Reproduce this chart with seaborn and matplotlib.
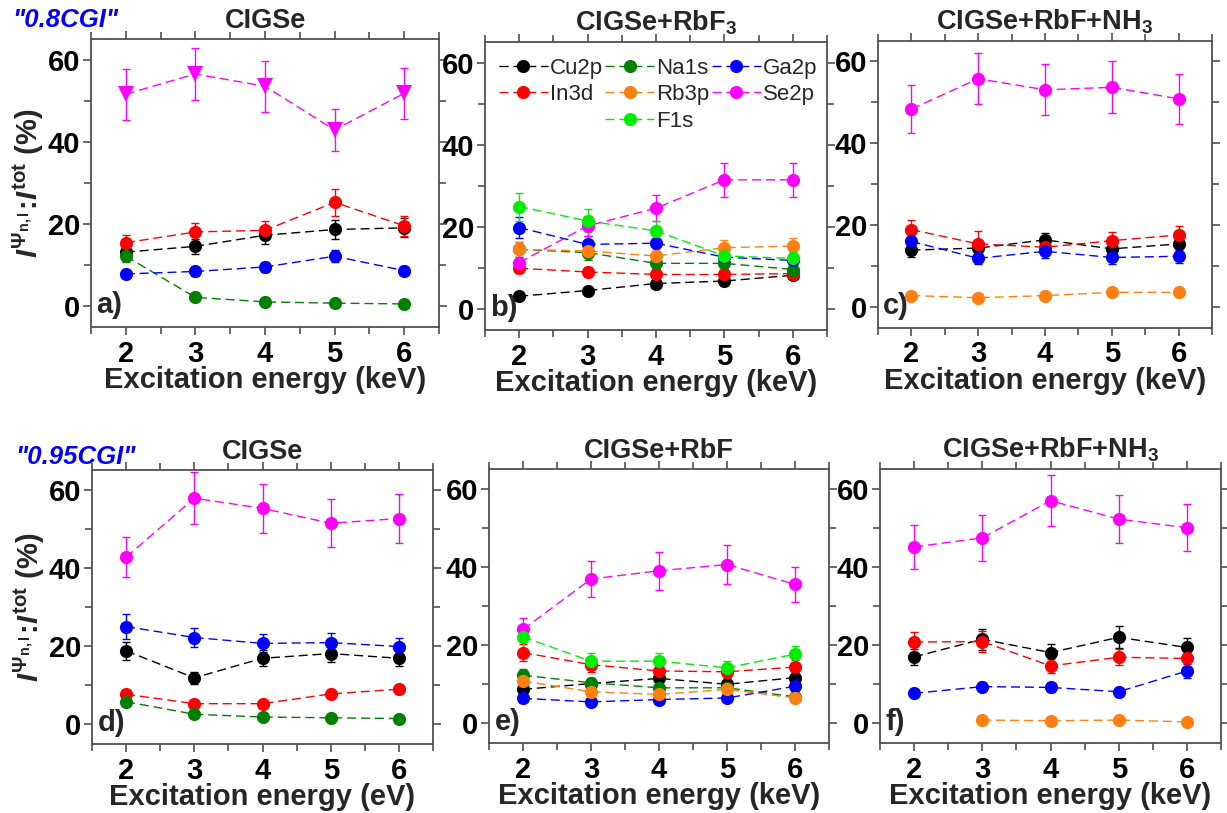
import numpy as np
import matplotlib
matplotlib.use("Agg")
import matplotlib.pyplot as plt
from matplotlib.lines import Line2D
from matplotlib.ticker import MultipleLocator
import seaborn as sns

# ---------------- data ----------------
ENERGY = [2, 3, 4, 5, 6]
nan = np.nan

# panel a: 0.8CGI CIGSe
A_VAL = {
    "Cu2p": [13.2, 14.6, 17.3, 18.7, 19.1],
    "In3d": [15.5, 18.1, 18.5, 25.3, 19.6],
    "Na1s": [12.2, 2.2, 1.1, 0.8, 0.6],
    "Ga2p": [7.9, 8.5, 9.6, 12.2, 8.7],
    "Se2p": [51.6, 56.5, 53.5, 42.9, 51.8],
}
A_ERR = {
    "Cu2p": [1.6, 1.8, 2.1, 2.3, 2.3],
    "In3d": [1.9, 2.2, 2.2, 3.2, 2.4],
    "Na1s": [1.5, 0.3, 0.2, 0.1, 0.1],
    "Ga2p": [1.0, 1.0, 1.2, 1.5, 1.1],
    "Se2p": [6.2, 6.4, 6.2, 5.2, 6.2],
}
# panel b: 0.8CGI CIGSe+RbF3
B_VAL = {
    "Cu2p": [3.2, 4.6, 6.3, 6.9, 8.3],
    "In3d": [10.0, 9.1, 8.5, 8.5, 8.7],
    "Na1s": [14.6, 13.8, 11.2, 11.2, 9.7],
    "Ga2p": [19.9, 15.8, 16.1, 12.7, 11.9],
    "Rb3p": [14.6, 14.2, 13.0, 15.0, 15.4],
    "Se2p": [11.4, 20.3, 24.6, 31.5, 31.5],
    "F1s": [25.0, 21.5, 19.1, 13.0, 12.4],
}
B_ERR = {
    "Cu2p": [0.4, 0.6, 0.8, 0.9, 1.0],
    "In3d": [1.2, 1.1, 1.0, 1.0, 1.1],
    "Na1s": [1.8, 1.7, 1.4, 1.4, 1.2],
    "Ga2p": [2.5, 2.0, 2.0, 1.6, 1.5],
    "Rb3p": [1.8, 1.8, 1.6, 1.9, 1.9],
    "Se2p": [1.4, 2.5, 3.1, 4.2, 4.2],
    "F1s": [3.4, 2.8, 2.4, 1.6, 1.6],
}
# panel c: 0.8CGI CIGSe+RbF+NH3
C_VAL = {
    "Cu2p": [14.0, 14.5, 16.5, 14.3, 15.5],
    "In3d": [19.0, 15.5, 14.7, 16.3, 17.7],
    "Ga2p": [16.1, 12.0, 13.7, 12.2, 12.5],
    "Rb3p": [2.9, 2.4, 2.9, 3.7, 3.7],
    "Se2p": [48.4, 55.8, 53.1, 53.7, 50.9],
}
C_ERR = {
    "Cu2p": [1.7, 1.8, 1.6, 1.8, 1.9],
    "In3d": [2.4, 3.2, 1.8, 2.0, 2.2],
    "Ga2p": [2.0, 1.5, 1.7, 1.5, 1.6],
    "Rb3p": [0.4, 0.3, 0.4, 0.5, 0.5],
    "Se2p": [5.8, 6.2, 6.2, 6.3, 6.1],
}
# panel d: 0.95CGI CIGSe
D_VAL = {
    "Cu2p": [18.8, 11.9, 16.9, 18.1, 16.9],
    "In3d": [7.7, 5.3, 5.3, 7.8, 9.0],
    "Na1s": [5.8, 2.6, 1.9, 1.7, 1.5],
    "Ga2p": [25.0, 22.2, 20.7, 20.9, 19.9],
    "Se2p": [42.7, 57.8, 55.2, 51.4, 52.6],
}
D_ERR = {
    "Cu2p": [2.3, 1.5, 2.0, 2.2, 2.0],
    "In3d": [1.0, 0.7, 0.7, 1.0, 1.1],
    "Na1s": [0.7, 0.3, 0.2, 0.2, 0.2],
    "Ga2p": [3.1, 2.5, 2.3, 2.4, 2.3],
    "Se2p": [5.1, 6.6, 6.3, 6.1, 6.2],
}
# panel e: 0.95CGI CIGSe+RbF
E_VAL = {
    "Cu2p": [8.7, 10.2, 11.5, 10.0, 11.7],
    "In3d": [18.1, 15.0, 13.4, 13.2, 14.4],
    "Na1s": [12.3, 10.4, 9.1, 9.1, 6.8],
    "Ga2p": [6.4, 5.5, 6.1, 6.5, 9.5],
    "Rb3p": [10.8, 8.1, 7.4, 8.7, 6.5],
    "Se2p": [24.0, 36.9, 39.0, 40.6, 35.5],
    "F1s": [22.1, 15.9, 15.9, 14.2, 17.7],
}
E_ERR = {
    "Cu2p": [1.1, 1.3, 1.4, 1.2, 1.4],
    "In3d": [2.2, 1.9, 1.7, 1.6, 1.8],
    "Na1s": [1.5, 1.3, 1.1, 1.1, 0.9],
    "Ga2p": [0.8, 0.7, 0.8, 0.8, 1.2],
    "Rb3p": [1.3, 1.0, 0.9, 1.1, 0.8],
    "Se2p": [3.0, 4.7, 4.9, 5.1, 4.5],
    "F1s": [2.8, 2.0, 2.0, 1.8, 2.2],
}
# panel f: 0.95CGI CIGSe+RbF+NH3
F_VAL = {
    "Cu2p": [17.0, 21.5, 18.1, 22.0, 19.4],
    "In3d": [20.8, 20.9, 14.7, 16.9, 16.6],
    "Ga2p": [7.7, 9.4, 9.2, 8.1, 13.4],
    "Rb3p": [nan, 0.85, 0.7, 0.85, 0.4],
    "Se2p": [45.1, 47.4, 56.9, 52.2, 50.0],
}
F_ERR = {
    "Cu2p": [2.1, 2.7, 2.3, 2.8, 2.4],
    "In3d": [2.6, 2.6, 1.8, 2.1, 2.1],
    "Ga2p": [1.0, 1.2, 1.2, 1.0, 1.7],
    "Rb3p": [nan, 0.1, 0.1, 0.1, 0.05],
    "Se2p": [5.7, 5.9, 6.5, 6.1, 6.0],
}

TITLES = ["CIGSe", r"CIGSe+RbF$_{3}$", r"CIGSe+RbF+NH$_{3}$",
          "CIGSe", "CIGSe+RbF", r"CIGSe+RbF+NH$_{3}$"]
XLABELS = ["Excitation energy (keV)", "Excitation energy (keV)", "Excitation energy (keV)",
           "Excitation energy (eV)", "Excitation energy (keV)", "Excitation energy (keV)"]
PANEL_TAGS = ["a)", "b)", "c)", "d)", "e)", "f)"]
SAMPLE_TAGS = ['"0.8CGI"', '"0.95CGI"']
LEGEND_ORDER = ["Cu2p", "In3d", None, "Na1s", "Rb3p", "F1s", "Ga2p", "Se2p", None]

COLORS = {"Cu2p": "black", "In3d": "#FF0000", "Na1s": "#008000", "Ga2p": "#0000FF",
          "Rb3p": "#FF8010", "Se2p": "#FF00FF", "F1s": "#00EE00"}

# ---------------- style ----------------
sns.set_theme(style="ticks")
plt.rcParams.update({
    "font.family": ["Liberation Sans", "DejaVu Sans"],
    "font.weight": "bold",
    "mathtext.fontset": "custom",
    "mathtext.rm": "Liberation Sans:bold",
    "mathtext.it": "Liberation Sans:italic:bold",
    "mathtext.bf": "Liberation Sans:bold",
    "lines.dashed_pattern": [6.5, 3.5],
    "axes.edgecolor": "#505050",
    "axes.linewidth": 1.3,
    "xtick.color": "#505050",
    "ytick.color": "#505050",
    "xtick.labelcolor": "black",
    "ytick.labelcolor": "black",
})

fig = plt.figure(figsize=(12.27, 8.13), dpi=100)
W, H = 1227.0, 813.0
# axes rectangles in pixels: left, top, right, bottom
RECTS = [(91, 39, 439, 327), (485, 42, 827, 330), (878, 41, 1212, 328),
         (92, 470, 433, 744), (489, 469, 829, 743), (880, 469, 1221, 743)]

panels = [(A_VAL, A_ERR), (B_VAL, B_ERR), (C_VAL, C_ERR),
          (D_VAL, D_ERR), (E_VAL, E_ERR), (F_VAL, F_ERR)]

for i, ((vals, errs), (l, t, r, b)) in enumerate(zip(panels, RECTS)):
    ax = fig.add_axes([l / W, 1 - b / H, (r - l) / W, (b - t) / H])
    for name, y in vals.items():
        c = COLORS[name]
        marker = "v" if (i == 0 and name == "Se2p") else "o"
        ms = 11.5 if marker == "v" else 9.5
        ax.errorbar(ENERGY, y, yerr=errs[name], fmt="none", ecolor=c,
                    elinewidth=1.0, capsize=3, capthick=1.0, zorder=2)
        sns.lineplot(x=ENERGY, y=y, ax=ax, color=c, marker=marker,
                     markersize=ms, markeredgewidth=0, linestyle="--",
                     linewidth=1.0, errorbar=None, zorder=3)
    ax.set_xlim(1.5, 6.5)
    ax.set_ylim(-5, 65)
    ax.set_xticks(ENERGY)
    ax.xaxis.set_minor_locator(MultipleLocator(0.5))
    ax.set_yticks([0, 20, 40, 60])
    ax.yaxis.set_minor_locator(MultipleLocator(10))
    ax.tick_params(which="both", direction="out", top=True, right=True,
                   width=1.2, labelsize=21, pad=2)
    ax.tick_params(which="major", length=6)
    ax.tick_params(which="minor", length=5)
    ax.tick_params(axis="x", pad=3)
    for lab in ax.get_xticklabels() + ax.get_yticklabels():
        lab.set_fontweight("bold")
    ax.set_title(TITLES[i], fontsize=19.5, fontweight="bold", pad=8)
    ax.set_xlabel(XLABELS[i], fontsize=21, fontweight="bold", labelpad=-1)
    ax.set_ylabel("")
    ax.text(0.016, 0.075, PANEL_TAGS[i], transform=ax.transAxes, ha="left",
            va="center", fontsize=21, fontweight="bold")
    if i in (0, 3):
        ax.set_ylabel(r"$I^{\Psi_{\mathrm{n,l}}}\!:\!I^{\mathrm{tot}}$ (%)",
                      fontsize=21, fontweight="bold", labelpad=1)
    if i == 1:
        handles, labels = [], []
        for name in LEGEND_ORDER:
            if name is None:
                handles.append(Line2D([], [], linestyle="none", marker=None))
                labels.append("")
            else:
                handles.append(Line2D([], [], color=COLORS[name], linestyle="--",
                                      linewidth=1.0, marker="o", markersize=9.5,
                                      markeredgewidth=0))
                labels.append(name)
        leg = ax.legend(handles, labels, ncol=3, loc="upper left",
                        bbox_to_anchor=(-0.005, 1.0), frameon=False,
                        handlelength=2.2, handletextpad=0.1, columnspacing=0.1,
                        labelspacing=0.25, borderaxespad=0.3,
                        prop={"family": "Liberation Sans", "weight": "normal", "size": 16})

fig.text(12 / W, 1 - 20 / H, SAMPLE_TAGS[0], color="#0000FF", fontsize=18.5,
         fontweight="bold", fontstyle="italic", ha="left", va="center")
fig.text(15 / W, 1 - 457 / H, SAMPLE_TAGS[1], color="#0000FF", fontsize=18.5,
         fontweight="bold", fontstyle="italic", ha="left", va="center")

fig.savefig("out.png", dpi=100)
